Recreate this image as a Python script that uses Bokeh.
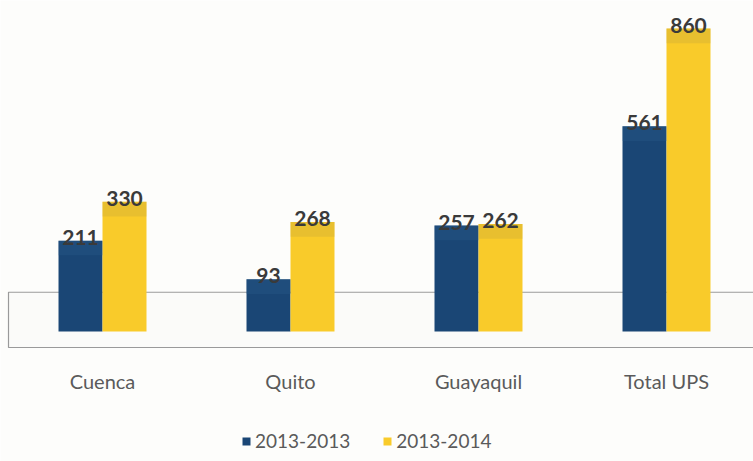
from bokeh.plotting import figure
from bokeh.models import Range1d, Legend, LegendItem, ColumnDataSource
from bokeh.embed import file_html
from bokeh.resources import INLINE
from bokeh.core.properties import value

categories = ["Cuenca", "Quito", "Guayaquil", "Total UPS"]
series_names = ["2013-2013", "2013-2014"]
values_2013_2013 = [211, 93, 257, 561]
values_2013_2014 = [330, 268, 262, 860]

BLUE = "#1A4675"
YELLOW = "#F9CB2A"
BASE = -67     # perspective floor offset of the 3D-style bars
FACE = 45      # depth of the shaded top face
LABEL_Y = -218 # level of the category labels

xs = list(range(len(categories)))
bw = 0.234

p = figure(width=753, height=461, output_backend="svg", toolbar_location=None,
           x_range=Range1d(-0.5426, 3.4628), y_range=Range1d(-465, 946),
           min_border_left=0, min_border_right=0, min_border_top=0, min_border_bottom=0,
           background_fill_color="#FDFDFB", border_fill_color="#FDFDFB")
p.outline_line_color = None
p.grid.visible = False
p.xaxis.visible = False
p.yaxis.visible = False

# floor box
p.quad(left=[-0.5], right=[3.6], top=[53], bottom=[-116],
       fill_color="#FBFBF9", line_color="#9A9A9A", line_width=1.2)

def make_src(xpos, vals):
    return ColumnDataSource(dict(x=xpos, top=vals, bottom=[BASE] * len(vals),
                                 face=[v - FACE for v in vals], lbl=[str(v) for v in vals]))

src_a = make_src([x - bw / 2 for x in xs], values_2013_2013)
src_b = make_src([x + bw / 2 for x in xs], values_2013_2014)

ra = p.vbar(x="x", top="top", bottom="bottom", width=bw, source=src_a,
            fill_color=BLUE, line_color=None)
rb = p.vbar(x="x", top="top", bottom="bottom", width=bw, source=src_b,
            fill_color=YELLOW, line_color=None)

# subtle top faces
p.vbar(x="x", top="top", bottom="face", width=bw, source=src_a,
       fill_color="#2A5B8A", fill_alpha=0.35, line_color=None)
p.vbar(x="x", top="top", bottom="face", width=bw, source=src_b,
       fill_color="#C9A83A", fill_alpha=0.35, line_color=None)

for src in (src_a, src_b):
    p.text(x="x", y="top", text="lbl", source=src, text_align="center",
           text_baseline="bottom", y_offset=4, text_font=value("Lato"),
           text_font_size="21px", text_font_style="bold", text_color="#3A3A3A")

# category labels
cat_src = ColumnDataSource(dict(x=xs, y=[LABEL_Y] * len(xs), t=categories))
p.text(x="x", y="y", text="t", source=cat_src, text_align="center",
       text_baseline="middle", text_font=value("Lato"), text_font_size="20px",
       text_color="#5A5A5A")

legend = Legend(items=[LegendItem(label=series_names[0], renderers=[ra]),
                       LegendItem(label=series_names[1], renderers=[rb])],
                orientation="horizontal", location=(241, 9),
                background_fill_alpha=0, border_line_color=None,
                label_text_font="Lato", label_text_font_size="19px",
                label_text_color="#5A5A5A", glyph_width=10, glyph_height=10,
                spacing=32, label_standoff=4, padding=0, margin=0)
p.add_layout(legend, "center")

open("out.html", "w").write(file_html(p, INLINE))
